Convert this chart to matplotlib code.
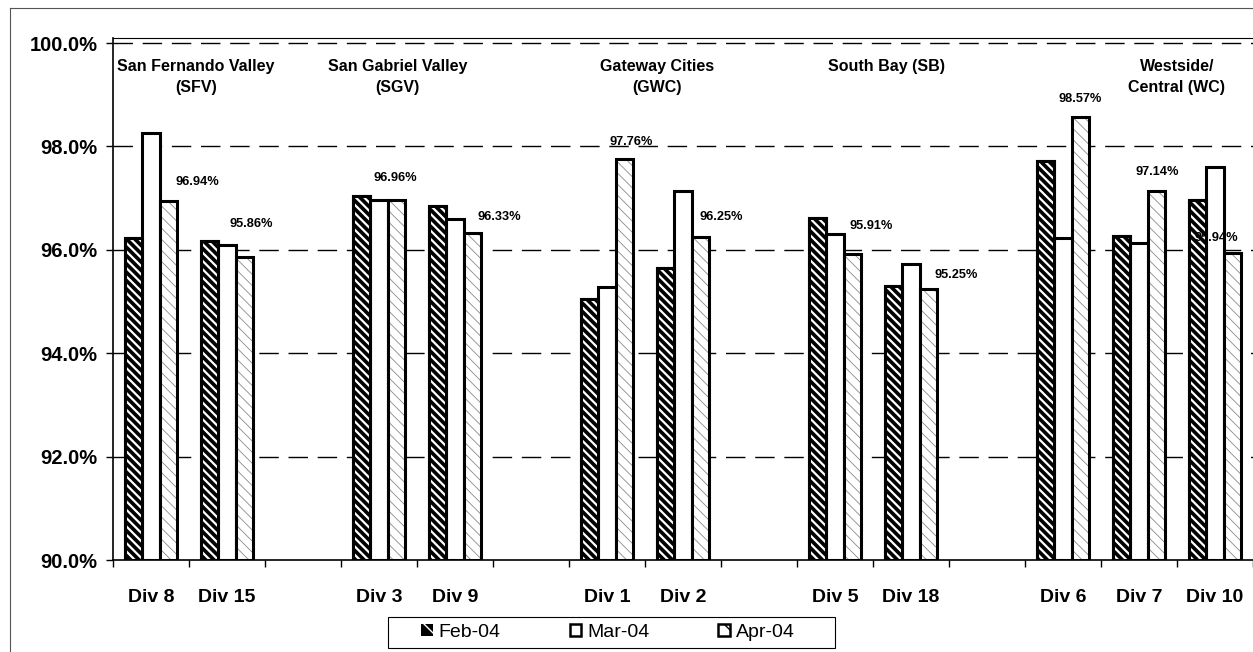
import numpy as np
import matplotlib
matplotlib.use("Agg")
import matplotlib.pyplot as plt
from matplotlib.patches import Patch, Rectangle
from matplotlib.lines import Line2D

plt.rcParams['font.family'] = ['Liberation Sans', 'DejaVu Sans']

nan = np.nan
categories = ['Div 8', 'Div 15', '', 'Div 3', 'Div 9', '', 'Div 1', 'Div 2', '',
              'Div 5', 'Div 18', '', 'Div 6', 'Div 7', 'Div 10']
feb = [96.23, 96.17, nan, 97.05, 96.84, nan, 95.04, 95.65, nan, 96.62, 95.30, nan, 97.71, 96.26, 96.97]
mar = [98.25, 96.10, nan, 96.97, 96.59, nan, 95.28, 97.13, nan, 96.31, 95.73, nan, 96.23, 96.13, 97.60]
apr = [96.94, 95.86, nan, 96.96, 96.33, nan, 97.76, 96.25, nan, 95.91, 95.25, nan, 98.57, 97.14, 95.94]
series_names = ['Feb-04', 'Mar-04', 'Apr-04']
group_titles = ['San Fernando Valley\n(SFV)', 'San Gabriel Valley\n(SGV)', 'Gateway Cities\n(GWC)',
                'South Bay (SB)', 'Westside/\nCentral (WC)']
yticks = [90, 92, 94, 96, 98, 100]

# label offsets in pixels (dx, dy) relative to top-centre of Apr bar
label_offsets = [(29, 19), (7, 33), None, (-1, 22), (27, 16), None, (7, 17), (21, 20), None,
                 (19, 28), (28, 14), None, (0, 18), (1, 19), (-16, 15)]
title_x = [1.09, 3.74, 7.16, 10.18, 14.0]

W, H = 1253, 652
fig = plt.figure(figsize=(W / 100, H / 100), dpi=100)
ax = fig.add_axes([113 / W, 92 / H, 1 - 113 / W, (560 - 38) / H])

n = len(categories)
x = np.arange(n) + 0.5
w = 0.228
lw = 2.2

# gridlines
for yv in yticks[1:]:
    ax.axhline(yv, color='black', lw=1.0, dashes=(14, 7), zorder=0.5)

# Feb: black with white diagonal stripes
ax.bar(x - w, np.array(feb) - 90, w, bottom=90, color='black', edgecolor='black', lw=lw, zorder=2)
b1h = ax.bar(x - w, np.array(feb) - 90, w, bottom=90, facecolor='none', edgecolor='white',
             hatch='\\\\\\\\', lw=0, zorder=2.1)
for p in b1h:
    if hasattr(p, 'set_hatch_linewidth'):
        p.set_hatch_linewidth(1.6)
ax.bar(x - w, np.array(feb) - 90, w, bottom=90, facecolor='none', edgecolor='black', lw=lw, zorder=2.2)

# Mar: white
ax.bar(x, np.array(mar) - 90, w, bottom=90, facecolor='white', edgecolor='black', lw=lw, zorder=2)

# Apr: light sparse hatch
ax.bar(x + w, np.array(apr) - 90, w, bottom=90, facecolor='white', edgecolor='none', lw=0, zorder=2)
b3h = ax.bar(x + w, np.array(apr) - 90, w, bottom=90, facecolor='none', edgecolor='#8a8a8a',
             hatch='\\\\\\', lw=0, zorder=2.1)
for p in b3h:
    if hasattr(p, 'set_hatch_linewidth'):
        p.set_hatch_linewidth(0.6)
ax.bar(x + w, np.array(apr) - 90, w, bottom=90, facecolor='none', edgecolor='black', lw=lw, zorder=2.2)

# data labels for Apr
for i, v in enumerate(apr):
    if np.isnan(v):
        continue
    dx, dy = label_offsets[i]
    ax.annotate(f'{v:.2f}%', xy=(x[i] + w, v), xytext=(dx, dy), textcoords='offset pixels',
                ha='center', va='center', fontsize=9.2, fontweight='bold', zorder=3)

# group titles
for tx, t in zip(title_x, group_titles):
    ax.text(tx, 99.70, t, ha='center', va='top', fontsize=11.5, fontweight='bold',
            linespacing=1.55, zorder=3)

ax.set_xlim(0, n)
ax.set_ylim(90, 90 + (560 - 38) / 51.7)
ax.set_yticks(yticks)
ax.set_yticklabels([f'{v:.1f}%' for v in yticks], fontsize=14.5, fontweight='bold')
ax.set_xticks(x)
ax.set_xticklabels(categories, fontsize=14, fontweight='bold')
ax.tick_params(axis='x', which='major', length=0, pad=21)
ax.set_xticks(np.arange(n + 1), minor=True)
ax.tick_params(axis='x', which='minor', length=5, width=1, direction='out')
ax.tick_params(axis='y', length=5, width=1, direction='out', pad=6)
for s in ['left', 'bottom']:
    ax.spines[s].set_linewidth(1.2)
ax.spines['top'].set_linewidth(0.8)
ax.spines['right'].set_visible(False)

# legend
h1 = Patch(facecolor='black', edgecolor='white', hatch='\\', lw=0)
h2 = Patch(facecolor='white', edgecolor='black', lw=1.8)
h3 = Patch(facecolor='white', edgecolor='black', hatch='\\', lw=1.8)
leg = fig.legend([h1, h2, h3], series_names, loc='center', bbox_to_anchor=(608 / W, 1 - 632.5 / H),
                 ncol=3, fontsize=14, frameon=False,
                 handlelength=0.6, handleheight=0.6, handletextpad=0.3, columnspacing=3.55,
                 borderpad=0.25, borderaxespad=0)
fig.add_artist(Rectangle((388 / W, 1 - 648 / H), (835 - 388) / W, 31 / H, transform=fig.transFigure,
                         facecolor='none', edgecolor='black', lw=0.8))

# outer chart border
fig.add_artist(Line2D([10 / W, 10 / W], [0, 1 - 8 / H], transform=fig.transFigure,
                      color='#555555', lw=0.8))
fig.add_artist(Line2D([10 / W, 1], [1 - 8 / H, 1 - 8 / H], transform=fig.transFigure,
                      color='#555555', lw=0.8))

fig.savefig('out.png', dpi=100)
